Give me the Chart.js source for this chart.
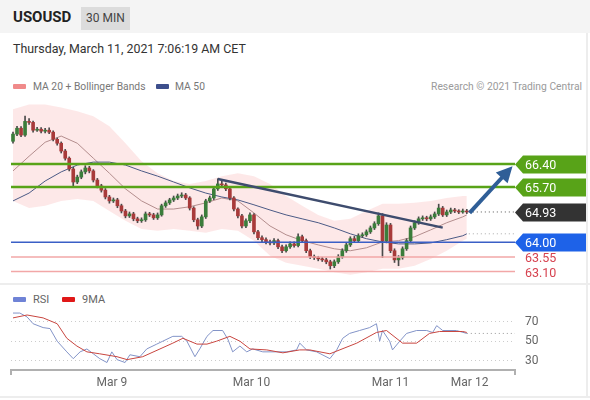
<!DOCTYPE html>
<html>
<head>
<meta charset="utf-8">
<title>USOUSD 30 MIN</title>
<script src="https://cdn.jsdelivr.net/npm/chart.js@4.4.1/dist/chart.umd.min.js"></script>
<style>
html, body { margin: 0; padding: 0; background: #fff; }
body { width: 590px; height: 400px; position: relative; overflow: hidden; font-family: Roboto, "Liberation Sans", Arial, sans-serif; }
#head { position: absolute; left: 0; top: 0; width: 590px; height: 33px; background: #f4f4f4; }
#sym { position: absolute; left: 13px; top: 8px; font-size: 15px; font-weight: bold; color: #222; }
#tf { position: absolute; left: 81px; top: 7px; width: 49px; height: 23px; line-height: 23px; text-align: center; background: #dcdcdc; color: #444; font-size: 12px; }
#stamp { position: absolute; left: 13px; top: 41px; font-size: 12.4px; color: #333; }
.txt { position: absolute; font-size: 10.3px; color: #777; white-space: nowrap; line-height: 13px; }
.sw { position: absolute; width: 13px; height: 5px; border-radius: 1px; }
.rule { position: absolute; background: #ededed; }
#main { position: absolute; left: 0; top: 95px; }
#rsi { position: absolute; left: 0; top: 305px; }
</style>
</head>
<body>
<div id="head"><span id="sym">USOUSD</span><span id="tf">30 MIN</span></div>
<div id="stamp">Thursday, March 11, 2021 7:06:19 AM CET</div>

<div class="sw" style="left:13px;top:84px;background:#f08a8a"></div>
<div class="txt" style="left:33px;top:80px">MA 20 + Bollinger Bands</div>
<div class="sw" style="left:156px;top:84px;background:#3d4f8c"></div>
<div class="txt" style="left:175px;top:80px">MA 50</div>
<div class="txt" style="right:8px;top:80px;color:#9a9a9a">Research © 2021 Trading Central</div>

<canvas id="main" width="590" height="188"></canvas>

<div class="rule" style="left:0;top:283px;width:590px;height:2px"></div>
<div class="sw" style="left:13px;top:297px;background:#6f83d6"></div>
<div class="txt" style="left:33px;top:293px;color:#666;font-size:11px">RSI</div>
<div class="sw" style="left:62px;top:297px;background:#e01818"></div>
<div class="txt" style="left:82px;top:293px;color:#666;font-size:11px">9MA</div>

<canvas id="rsi" width="590" height="90"></canvas>
<div class="rule" style="left:0;top:396px;width:590px;height:2px"></div>
<div class="rule" style="left:586px;top:33px;width:2px;height:365px"></div>

<script>
// 30 min candles, index 0 = first candle on the left
const opens = [
  67.10, 67.32, 67.50, 67.29, 67.71, 67.68, 67.44, 67.47, 67.41, 67.44,
  67.38, 67.16, 67.04, 66.80, 66.58, 66.25, 65.85, 66.00, 66.16, 66.28,
  66.19, 65.91, 65.73, 65.60, 65.39, 65.27, 65.30, 65.12, 64.96, 64.81,
  64.87, 64.72, 64.66, 64.69, 64.87, 64.84, 64.75, 64.84, 65.12, 65.21,
  65.30, 65.36, 65.42, 65.45, 65.36, 65.05, 64.69, 64.50, 64.78, 65.27,
  65.36, 65.64, 65.79, 65.76, 65.64, 65.36, 65.02, 64.81, 64.50, 64.66,
  64.84, 64.32, 64.14, 64.08, 64.01, 63.98, 64.05, 63.86, 63.74, 63.86,
  63.95, 63.90, 64.17, 64.05, 63.74, 63.56, 63.53, 63.49, 63.46, 63.40,
  63.28, 63.40, 63.56, 63.74, 63.92, 64.11, 64.05, 64.20, 64.23, 64.32,
  64.44, 64.57, 64.81, 64.05, 64.53, 63.74, 63.46, 63.53, 63.80, 64.05,
  64.44, 64.60, 64.72, 64.75, 64.72, 64.78, 64.87, 65.05, 64.84, 64.93,
  64.99, 64.96, 64.93, 64.96
];
const highs = [
  67.38, 67.56, 67.55, 67.87, 67.80, 67.72, 67.53, 67.52, 67.50, 67.51,
  67.42, 67.20, 67.08, 66.85, 66.62, 66.30, 66.06, 66.22, 66.35, 66.33,
  66.23, 65.96, 65.78, 65.65, 65.44, 65.36, 65.35, 65.17, 65.01, 64.93,
  64.92, 64.77, 64.75, 64.93, 64.92, 64.89, 64.90, 65.17, 65.27, 65.35,
  65.42, 65.48, 65.52, 65.50, 65.40, 65.09, 64.74, 64.84, 65.32, 65.42,
  65.70, 65.95, 65.90, 65.82, 65.68, 65.40, 65.06, 64.86, 64.72, 64.90,
  64.88, 64.37, 64.20, 64.14, 64.07, 64.11, 64.10, 63.91, 63.92, 64.01,
  64.01, 64.26, 64.22, 64.10, 63.79, 63.61, 63.57, 63.54, 63.51, 63.45,
  63.46, 63.62, 63.80, 63.98, 64.17, 64.18, 64.26, 64.29, 64.38, 64.50,
  64.63, 64.90, 64.88, 64.60, 64.58, 63.80, 63.59, 63.86, 64.11, 64.50,
  64.66, 64.78, 64.81, 64.80, 64.84, 64.93, 65.17, 65.10, 64.99, 65.05,
  65.04, 65.00, 65.02, 65.01
];
const lows = [
  67.04, 67.27, 67.24, 67.25, 67.62, 67.38, 67.40, 67.36, 67.36, 67.33,
  67.11, 66.98, 66.74, 66.52, 66.19, 65.73, 65.80, 65.95, 66.10, 66.13,
  65.85, 65.67, 65.54, 65.33, 65.20, 65.22, 65.06, 64.90, 64.75, 64.76,
  64.66, 64.60, 64.61, 64.64, 64.79, 64.70, 64.70, 64.80, 65.07, 65.16,
  65.25, 65.31, 65.37, 65.31, 64.99, 64.63, 64.40, 64.45, 64.73, 65.22,
  65.31, 65.59, 65.70, 65.58, 65.30, 64.96, 64.75, 64.44, 64.45, 64.60,
  64.26, 64.08, 64.02, 63.95, 63.92, 63.93, 63.80, 63.68, 63.70, 63.81,
  63.85, 63.86, 64.00, 63.68, 63.50, 63.47, 63.43, 63.41, 63.34, 63.18,
  63.22, 63.35, 63.51, 63.69, 63.87, 64.00, 64.00, 64.15, 64.18, 64.27,
  64.39, 64.52, 63.53, 63.98, 63.68, 63.38, 63.28, 63.48, 63.75, 64.00,
  64.39, 64.55, 64.67, 64.66, 64.67, 64.73, 64.82, 64.79, 64.79, 64.88,
  64.91, 64.88, 64.89, 64.88
];
const closes = [
  67.32, 67.50, 67.29, 67.71, 67.68, 67.44, 67.47, 67.41, 67.44, 67.38,
  67.16, 67.04, 66.80, 66.58, 66.25, 65.85, 66.00, 66.16, 66.28, 66.19,
  65.91, 65.73, 65.60, 65.39, 65.27, 65.30, 65.12, 64.96, 64.81, 64.87,
  64.72, 64.66, 64.69, 64.87, 64.84, 64.75, 64.84, 65.12, 65.21, 65.30,
  65.36, 65.42, 65.45, 65.36, 65.05, 64.69, 64.50, 64.78, 65.27, 65.36,
  65.64, 65.79, 65.76, 65.64, 65.36, 65.02, 64.81, 64.50, 64.66, 64.84,
  64.32, 64.14, 64.08, 64.01, 63.98, 64.05, 63.86, 63.74, 63.86, 63.95,
  63.90, 64.17, 64.05, 63.74, 63.56, 63.53, 63.49, 63.46, 63.40, 63.28,
  63.40, 63.56, 63.74, 63.92, 64.11, 64.05, 64.20, 64.23, 64.32, 64.44,
  64.57, 64.81, 64.05, 64.53, 63.74, 63.46, 63.53, 63.80, 64.05, 64.44,
  64.60, 64.72, 64.75, 64.72, 64.78, 64.87, 65.05, 64.84, 64.93, 64.99,
  64.96, 64.93, 64.96, 64.93
];

// moving averages and bands, read every 4th candle
const maIdx   = [0, 4, 8, 12, 16, 20, 24, 28, 32, 36, 40, 44, 48, 52, 56, 60, 64, 68, 72, 76, 80, 84, 88, 92, 96, 100, 104, 108, 112, 113];
const ma20    = [66.19, 66.64, 67.07, 67.26, 67.04, 66.58, 66.12, 65.64, 65.27, 65.02, 65.02, 65.09, 65.21, 65.36, 65.27, 64.90, 64.50, 64.23, 64.05, 63.92, 63.80, 63.74, 63.83, 64.01, 64.05, 64.17, 64.38, 64.60, 64.78, 64.84];
const ma50    = [65.27, 65.51, 65.88, 66.16, 66.37, 66.46, 66.46, 66.37, 66.19, 66.03, 65.85, 65.67, 65.51, 65.39, 65.30, 65.15, 64.99, 64.84, 64.72, 64.60, 64.44, 64.26, 64.11, 64.01, 63.95, 63.95, 63.98, 64.08, 64.20, 64.26];
const bbUpper = [68.08, 68.23, 68.23, 68.14, 68.02, 67.87, 67.56, 67.04, 66.49, 66.12, 65.88, 65.79, 65.88, 66.03, 66.12, 66.03, 65.79, 65.42, 65.12, 64.84, 64.66, 64.72, 64.96, 65.18, 65.18, 65.21, 65.27, 65.36, 65.42, 65.42];
const bbLower = [65.27, 65.05, 65.12, 65.27, 65.33, 65.27, 64.96, 64.66, 64.41, 64.35, 64.41, 64.35, 64.29, 64.41, 64.35, 64.05, 63.59, 63.37, 63.28, 63.19, 63.08, 63.00, 63.08, 63.19, 63.19, 63.28, 63.49, 63.74, 64.05, 64.11];

// levels
const resistances = [66.40, 65.70];
const supports = [64.00];
const minorSupports = [63.55, 63.10];
const lastPrice = 64.93;
const ma50Last = 64.26;

const trendIdx = [51, 107];
const trendVals = [65.94, 64.45];
const arrowIdx = [113.7, 122.7];
const arrowVals = [64.90, 66.11];

// RSI panel
const rsiIdx = [0, 1.7, 3.5, 5, 7.5, 9.2, 11, 13.4, 15, 16.7, 18.4, 20, 21.6, 23.4, 24.6, 25.9, 27.9, 29.1, 31.6, 33.3,
  35.8, 37.3, 39.8, 42, 43.3, 45.3, 46.5, 48.3, 49.8, 52.2, 53.5, 54.7, 56.5, 58.2, 59.7, 62.2, 65.7, 68.2, 70.6, 71.4,
  73.1, 75.6, 78.9, 80.6, 82.1, 83.8, 86.3, 88.8, 90.5, 91.3, 92, 93.8, 94.5, 96.3, 98, 100.5, 103, 104.5, 105.5, 107, 110.4, 113];
const rsiVals = [79, 79, 75, 68, 64, 63, 50, 39, 32, 39, 42, 37, 32, 28, 39, 31, 28, 36, 34, 42,
  47, 50, 55, 55, 50, 34, 42, 55, 61, 61, 52, 39, 45, 39, 42, 39, 39, 39, 41, 48,
  41, 39, 32, 41, 53, 58, 61, 64, 68, 50, 61, 50, 41, 50, 58, 61, 61, 59, 66, 61, 61, 58];
const ma9Idx = [0, 3.5, 7.5, 11, 13.4, 15.9, 18.4, 21.6, 25.9, 28.4, 32.3, 36.6, 39.8, 42.3, 45.8, 48.3, 50.7, 54, 56.5, 59,
  63.2, 67.2, 71.4, 73.9, 78.9, 85.6, 90.5, 93, 97, 100.5, 103.7, 106.2, 112, 113];
const ma9Vals = [74, 77, 74, 68, 53, 45, 39, 37, 34, 31, 34, 42, 48, 53, 47, 47, 50, 55, 50, 42,
  41, 38, 41, 41, 37, 48, 59, 61, 48, 48, 58, 60, 60, 59];
const rsiTicks = [30, 50, 70];

const timeTicks = [24.6, 59.4, 94, 113.7];
const timeLabels = ['Mar 9', 'Mar 10', 'Mar 11', 'Mar 12'];

const X_MIN = -0.5, X_MAX = 125;
const UP = '#3b7d3b', DOWN = '#a83a3a';
const GREEN = '#58a318', BLUE = '#3a5fc6', PINK = '#f2a7a7';
const FONT = 'Roboto, "Liberation Sans", Arial, sans-serif';

const pts = (xs, ys) => xs.map((x, i) => ({x: x, y: ys[i]}));
const flat = (v, from) => [{x: from, y: v}, {x: X_MAX, y: v}];
const idx = closes.map((c, i) => i);

const wickData = idx.map(i => ({x: i, y: [lows[i], highs[i]]}));
const bodyData = idx.map(i => ({x: i, y: [Math.min(opens[i], closes[i]), Math.max(opens[i], closes[i])]}));
const bodyColors = idx.map(i => closes[i] >= opens[i] ? UP : DOWN);

function lineSet(data, color, width, order, extra) {
  return Object.assign({type: 'line', data: data, borderColor: color, borderWidth: width,
    pointRadius: 0, fill: false, tension: 0, order: order}, extra || {});
}

const mainSets = [
  lineSet(pts(maIdx, bbUpper), 'rgba(0,0,0,0)', 0, 30, {fill: '+1', backgroundColor: 'rgba(250,185,185,0.32)'}),
  lineSet(pts(maIdx, bbLower), 'rgba(0,0,0,0)', 0, 30),
  lineSet(pts(maIdx, ma20), '#b38d8d', 1, 29),
  lineSet(pts(maIdx, ma50), '#4b5a85', 1, 28),
  {type: 'bar', data: wickData, backgroundColor: '#4a4a4a', barThickness: 1, grouped: false, order: 27},
  {type: 'bar', data: bodyData, backgroundColor: bodyColors, barThickness: 3, grouped: false, minBarLength: 1, order: 26}
];
minorSupports.forEach(v => mainSets.push(lineSet(flat(v, X_MIN), PINK, 1.5, 20)));
supports.forEach(v => mainSets.push(lineSet(flat(v, X_MIN), BLUE, 1.5, 19)));
resistances.forEach(v => mainSets.push(lineSet(flat(v, X_MIN), GREEN, 2.5, 18)));
mainSets.push(lineSet(flat(lastPrice, 113.5), '#555', 1, 10, {borderDash: [1, 3]}));
mainSets.push(lineSet(flat(ma50Last, 113.5), '#aaa', 1, 10, {borderDash: [1, 3]}));
mainSets.push(lineSet(pts(trendIdx, trendVals), '#3e4c6e', 2.5, 6));
mainSets.push(lineSet(pts(arrowIdx, arrowVals), '#2f5e97', 4, 5, {label: 'arrow'}));

// price tags on the right
const tags = [
  {v: resistances[0], bg: GREEN, fg: '#fff'},
  {v: resistances[1], bg: GREEN, fg: '#fff'},
  {v: lastPrice, bg: '#333', fg: '#fff'},
  {v: supports[0], bg: '#1e62e8', fg: '#fff'},
  {v: minorSupports[0], bg: null, fg: '#d6424f'},
  {v: minorSupports[1], bg: null, fg: '#d6424f'}
];

const tagPlugin = {
  id: 'tags',
  afterDraw(chart) {
    const ctx = chart.ctx, y = chart.scales.y, x0 = chart.chartArea.right;
    ctx.save();
    ctx.font = '12.5px ' + FONT;
    ctx.textBaseline = 'middle';
    tags.forEach(t => {
      const yy = Math.round(y.getPixelForValue(t.v)) + 0.5;
      if (t.bg) {
        ctx.fillStyle = t.bg;
        ctx.beginPath();
        ctx.moveTo(x0, yy);
        ctx.lineTo(x0 + 8, yy - 9);
        ctx.lineTo(586, yy - 9);
        ctx.lineTo(586, yy + 9);
        ctx.lineTo(x0 + 8, yy + 9);
        ctx.closePath();
        ctx.fill();
      }
      ctx.fillStyle = t.fg;
      ctx.fillText(t.v.toFixed(2), x0 + 10, yy + 1);
    });
    ctx.restore();
  }
};

const arrowPlugin = {
  id: 'arrowHead',
  afterDatasetsDraw(chart) {
    const i = chart.data.datasets.findIndex(d => d.label === 'arrow');
    const p = chart.getDatasetMeta(i).data;
    const a = Math.atan2(p[1].y - p[0].y, p[1].x - p[0].x);
    const c = Math.cos(a), s = Math.sin(a);
    const tx = p[1].x + 10 * c, ty = p[1].y + 10 * s;
    const bx = p[1].x - 6 * c, by = p[1].y - 6 * s;
    const ctx = chart.ctx;
    ctx.save();
    ctx.fillStyle = '#2f5e97';
    ctx.beginPath();
    ctx.moveTo(tx, ty);
    ctx.lineTo(bx - 8 * s, by + 8 * c);
    ctx.lineTo(bx + 8 * s, by - 8 * c);
    ctx.closePath();
    ctx.fill();
    ctx.restore();
  }
};

new Chart(document.getElementById('main'), {
  type: 'bar',
  data: {datasets: mainSets},
  options: {
    responsive: false,
    animation: false,
    devicePixelRatio: 1,
    layout: {padding: {left: 11, right: 75, top: 0, bottom: 0}},
    plugins: {legend: {display: false}, tooltip: {enabled: false}},
    scales: {
      x: {type: 'linear', min: X_MIN, max: X_MAX, offset: false, display: false},
      y: {min: 62.75, max: 68.52, display: false}
    }
  },
  plugins: [tagPlugin, arrowPlugin]
});

const axisEnds = {
  id: 'axisEnds',
  afterDraw(chart) {
    const ctx = chart.ctx, a = chart.chartArea;
    ctx.save();
    ctx.strokeStyle = '#b0b0b0';
    ctx.lineWidth = 2;
    ctx.beginPath();
    ctx.moveTo(a.left, a.bottom);
    ctx.lineTo(a.left, a.bottom + 5);
    ctx.moveTo(a.right, a.bottom);
    ctx.lineTo(a.right, a.bottom + 5);
    ctx.stroke();
    ctx.restore();
  }
};

new Chart(document.getElementById('rsi'), {
  type: 'line',
  data: {datasets: [
    lineSet(pts(rsiIdx, rsiVals), '#8394c8', 1, 2),
    lineSet(pts(ma9Idx, ma9Vals), '#c8453f', 1, 1),
    lineSet(flat(rsiVals[rsiVals.length - 1], 113), '#999', 1, 3, {borderDash: [1, 3]})
  ]},
  options: {
    responsive: false,
    animation: false,
    devicePixelRatio: 1,
    layout: {padding: {left: 11, right: 0, top: 0, bottom: 0}},
    plugins: {legend: {display: false}, tooltip: {enabled: false}},
    scales: {
      x: {
        type: 'linear', min: X_MIN, max: X_MAX, offset: false, position: 'bottom',
        grid: {display: false, drawTicks: false},
        border: {display: true, color: '#b0b0b0', width: 2},
        afterBuildTicks: s => { s.ticks = timeTicks.map(v => ({value: v})); },
        afterFit: s => { s.height = 25; s.paddingLeft = 0; s.paddingRight = 0; },
        ticks: {autoSkip: false, maxRotation: 0, padding: 6, color: '#666',
          font: {size: 12, family: FONT}, callback: (v, i) => timeLabels[i]}
      },
      y: {
        position: 'right', min: 20.3, max: 87.3,
        afterBuildTicks: s => { s.ticks = rsiTicks.map(v => ({value: v})); },
        afterFit: s => { s.width = 75; s.paddingTop = 0; s.paddingBottom = 0; },
        grid: {color: '#cccccc', drawTicks: false},
        border: {display: false, dash: [1, 3]},
        ticks: {padding: 10, color: '#666', font: {size: 12, family: FONT}}
      }
    }
  },
  plugins: [axisEnds]
});
</script>
</body>
</html>
